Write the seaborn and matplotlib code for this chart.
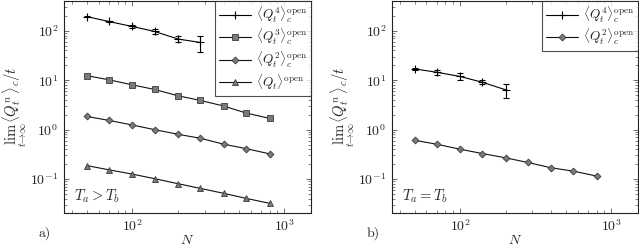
import numpy as np
import pandas as pd
import seaborn as sns
import matplotlib
matplotlib.use("Agg")
import matplotlib.pyplot as plt
from matplotlib.ticker import LogLocator, NullFormatter

sns.set_style("ticks")
plt.rcParams["font.family"] = ["cmr10", "DejaVu Serif"]
plt.rcParams["mathtext.fontset"] = "cm"
plt.rcParams["axes.formatter.use_mathtext"] = True
plt.rcParams["axes.unicode_minus"] = True

# ---------------- data ----------------
N_all = [50, 70, 100, 140, 200, 280, 400, 560, 800]

# panel a) Ta > Tb
a_q4 = [194, 154, 122, 97, 68, 58]
a_q4_err = [5, 6, 8, 12, 10, 20]
a_q3 = [12.4, 10.2, 8.05, 6.5, 4.84, 3.9, 3.0, 2.17, 1.69]
a_q2 = [1.85, 1.54, 1.24, 1.0, 0.805, 0.67, 0.507, 0.414, 0.324]
a_q1 = [0.188, 0.154, 0.126, 0.102, 0.0806, 0.0649, 0.0514, 0.0408, 0.0323]

# panel b) Ta = Tb
b_q4 = [16.9, 14.5, 11.9, 9.1, 6.4]
b_q4_err = [0.6, 1.7, 2.0, 0.9, 2.0]
b_q2 = [0.61, 0.507, 0.402, 0.329, 0.269, 0.217, 0.169, 0.145, 0.115]

lbl_q4 = r"$\langle Q_t^4\rangle_c^{\mathrm{open}}$"
lbl_q3 = r"$\langle Q_t^3\rangle_c^{\mathrm{open}}$"
lbl_q2 = r"$\langle Q_t^2\rangle_c^{\mathrm{open}}$"
lbl_q1 = r"$\langle Q_t\rangle^{\mathrm{open}}$"
ylabel = r"$\lim_{t\to\infty}\langle Q_t^n\rangle_c/t$"

fill = "#7a7a7a"
edge = "#3a3a3a"

fig = plt.figure(figsize=(6.39, 2.49), dpi=100)
axA = fig.add_axes([64/639, 36/249, 247/639, 212/249])
axB = fig.add_axes([392/639, 36/249, 246/639, 212/249])


def q4_plot(ax, N, v, e):
    df = pd.DataFrame({"N": N, "v": v})
    sns.lineplot(data=df, x="N", y="v", ax=ax, color="black", lw=0.8,
                 marker="+", markersize=6, markeredgewidth=0.8,
                 markeredgecolor="black", label=lbl_q4, zorder=3)
    ax.errorbar(N, v, yerr=e, fmt="none", ecolor="black", elinewidth=0.8,
                capsize=2.5, capthick=0.8, zorder=3)


def series(ax, N, v, marker, ms, label):
    df = pd.DataFrame({"N": N, "v": v})
    sns.lineplot(data=df, x="N", y="v", ax=ax, color="#111111", lw=0.8,
                 marker=marker, markersize=ms, markerfacecolor=fill,
                 markeredgecolor=edge, markeredgewidth=0.6, label=label, zorder=3)


q4_plot(axA, N_all[:len(a_q4)], a_q4, a_q4_err)
series(axA, N_all, a_q3, "s", 5, lbl_q3)
series(axA, N_all, a_q2, "D", 3.5, lbl_q2)
series(axA, N_all, a_q1, "^", 4, lbl_q1)

q4_plot(axB, N_all[:len(b_q4)], b_q4, b_q4_err)
series(axB, N_all, b_q2, "D", 3.5, lbl_q2)

for ax, tag, txt in [(axA, "a)", r"$T_a > T_b$"), (axB, "b)", r"$T_a = T_b$")]:
    ax.set_xscale("log")
    ax.set_yscale("log")
    ax.set_xlim(35.5, 1500)
    ax.set_ylim(0.0206, 400)
    ax.xaxis.set_major_locator(LogLocator(base=10, numticks=10))
    ax.yaxis.set_major_locator(LogLocator(base=10, numticks=10))
    ax.xaxis.set_minor_locator(LogLocator(base=10, subs=np.arange(2, 10), numticks=20))
    ax.yaxis.set_minor_locator(LogLocator(base=10, subs=np.arange(2, 10), numticks=20))
    ax.xaxis.set_minor_formatter(NullFormatter())
    ax.yaxis.set_minor_formatter(NullFormatter())
    ax.tick_params(which="both", direction="in", top=True, right=True,
                   labelsize=10, color="#555555")
    ax.tick_params(which="major", length=3.5, width=0.6, pad=4)
    ax.tick_params(which="minor", length=2, width=0.5)
    for s in ax.spines.values():
        s.set_linewidth(0.8)
        s.set_color("#222222")
    ax.set_xlabel(r"$N$", fontsize=10, labelpad=0)
    ax.set_ylabel(ylabel, fontsize=10.5, labelpad=1)
    ax.text(0.04, 0.04, txt, transform=ax.transAxes, fontsize=10.5,
            ha="left", va="bottom")
    ax.text(-0.077, -0.095, tag, transform=ax.transAxes, fontsize=10,
            ha="center", va="center")
    leg = ax.legend(loc="upper right", fontsize=9.5, frameon=True, fancybox=False,
                    borderpad=0.3, labelspacing=0.15, handlelength=2.4,
                    handletextpad=0.4, borderaxespad=0.0)
    leg.get_frame().set_edgecolor("#222222")
    leg.get_frame().set_linewidth(0.8)

fig.savefig("out.png", dpi=100)
